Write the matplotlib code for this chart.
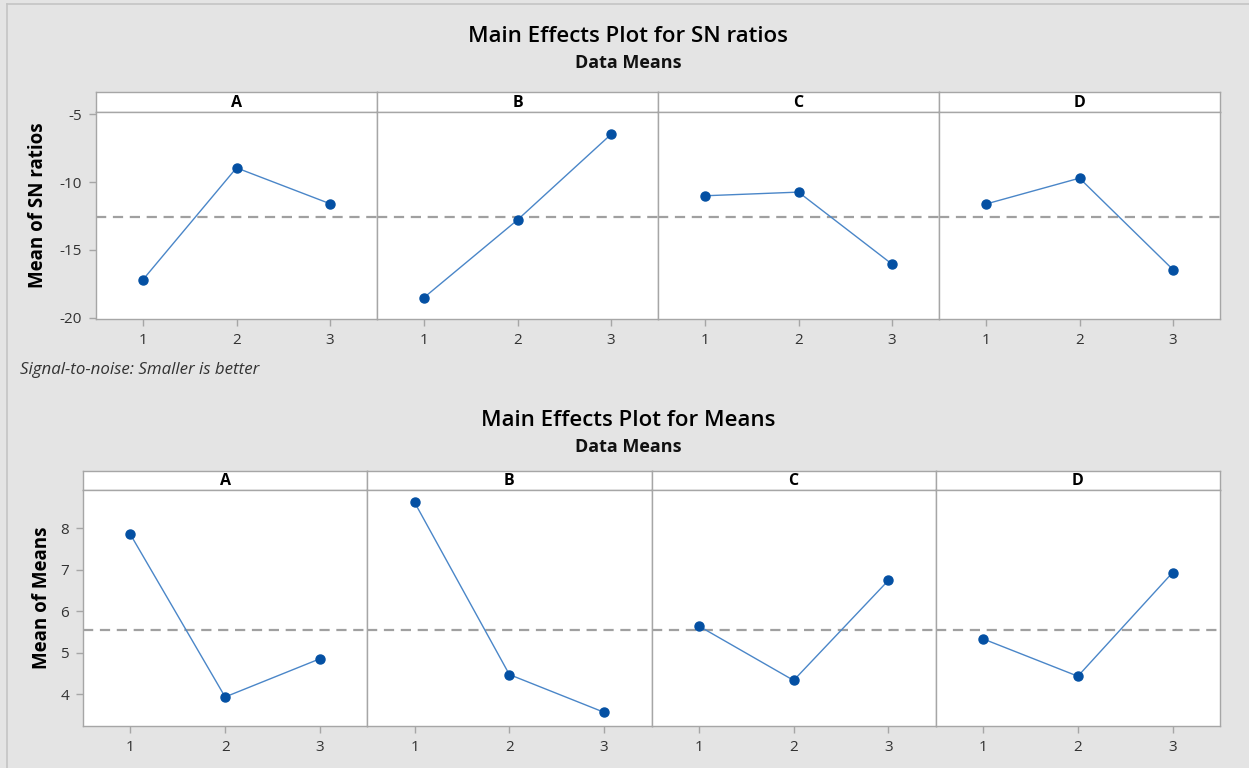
import matplotlib
matplotlib.use("Agg")
import matplotlib.pyplot as plt
from matplotlib.lines import Line2D

# --- data ---
factors = ["A", "B", "C", "D"]
levels = [1, 2, 3]

sn_A = [-17.21, -8.95, -11.60]
sn_B = [-18.53, -12.79, -6.47]
sn_C = [-11.01, -10.74, -16.06]
sn_D = [-11.62, -9.71, -16.47]
sn_grand_mean = -12.6
sn_yticks = [-20, -15, -10, -5]

means_A = [7.85, 3.93, 4.85]
means_B = [8.62, 4.47, 3.56]
means_C = [5.64, 4.33, 6.74]
means_D = [5.33, 4.43, 6.93]
means_grand_mean = 5.55
means_yticks = [4, 5, 6, 7, 8]

W, H = 1249, 768
BG = "#e4e4e4"
EDGE = "#a6a6a6"
MARKER = "#0450a3"
LINE = "#4a86c8"

plt.rcParams["font.family"] = ["Open Sans", "DejaVu Sans"]

fig = plt.figure(figsize=(W / 100, H / 100), dpi=100, facecolor=BG)

# faint frame around the whole graph
fig.add_artist(Line2D([7 / W, 7 / W], [0, 1 - 4 / H], color="#c4c4c4", lw=1.2))
fig.add_artist(Line2D([7 / W, 1], [1 - 4 / H, 1 - 4 / H], color="#c4c4c4", lw=1.2))


def px_box(x0, y0, x1, y1):
    # pixel box (top-left origin) -> figure fraction rect
    return [x0 / W, 1 - y1 / H, (x1 - x0) / W, (y1 - y0) / H]


def main_effects(series, grand_mean, yticks, ylim, left, right, strip_top, top, bottom):
    width = (right - left) / len(series)
    for i, (name, vals) in enumerate(zip(factors, series)):
        x0 = left + i * width
        x1 = x0 + width

        # strip with factor name
        sax = fig.add_axes(px_box(x0, strip_top, x1, top))
        sax.set_facecolor("white")
        sax.set_xticks([])
        sax.set_yticks([])
        for sp in sax.spines.values():
            sp.set_color(EDGE)
            sp.set_linewidth(1)
        sax.text(0.5, 0.45, name, ha="center", va="center", fontsize=11.5,
                 fontweight="bold", color="black", transform=sax.transAxes)

        ax = fig.add_axes(px_box(x0, top, x1, bottom))
        ax.set_facecolor("white")
        ax.axhline(grand_mean, color="#a0a0a0", lw=1.6, ls=(0, (4.6, 3.0)), zorder=1)
        ax.plot(levels, vals, color=LINE, lw=1.0, zorder=2)
        ax.plot(levels, vals, "o", color=MARKER, ms=6.5, zorder=3)
        ax.set_xlim(0.5, 3.5)
        ax.set_ylim(*ylim)
        ax.set_xticks(levels)
        ax.set_xticklabels([str(l) for l in levels])
        ax.set_yticks(yticks)
        ax.tick_params(axis="both", direction="out", length=5, width=1,
                       color=EDGE, labelcolor="#333333", labelsize=11, pad=5)
        if i == 0:
            ax.set_yticklabels([str(t) for t in yticks])
        else:
            ax.tick_params(axis="y", left=False, labelleft=False)
        for sp in ax.spines.values():
            sp.set_color(EDGE)
            sp.set_linewidth(1)


# top: SN ratios
main_effects([sn_A, sn_B, sn_C, sn_D], sn_grand_mean, sn_yticks, (-20.1, -4.83),
             left=96, right=1220, strip_top=92, top=112, bottom=319)
fig.text(628 / W, 1 - 37 / H, "Main Effects Plot for SN ratios", ha="center", va="center",
         fontsize=16, fontweight="semibold", color="black")
fig.text(628 / W, 1 - 63 / H, "Data Means", ha="center", va="center",
         fontsize=13, fontweight="bold", color="#111111")
fig.text(38 / W, 1 - 205 / H, "Mean of SN ratios", rotation=90, ha="center", va="center",
         fontsize=13.5, fontweight="bold", color="black")
fig.text(20 / W, 1 - 370 / H, "Signal-to-noise: Smaller is better", ha="left", va="center",
         fontsize=12.2, fontstyle="italic", color="#333333")

# bottom: Means
main_effects([means_A, means_B, means_C, means_D], means_grand_mean, means_yticks, (3.23, 8.92),
             left=83, right=1220, strip_top=471, top=490, bottom=726)
fig.text(628 / W, 1 - 420 / H, "Main Effects Plot for Means", ha="center", va="center",
         fontsize=16, fontweight="semibold", color="black")
fig.text(628 / W, 1 - 447 / H, "Data Means", ha="center", va="center",
         fontsize=13, fontweight="bold", color="#111111")
fig.text(42 / W, 1 - 598 / H, "Mean of Means", rotation=90, ha="center", va="center",
         fontsize=13.5, fontweight="bold", color="black")

fig.savefig("out.png", dpi=100, facecolor=BG)
